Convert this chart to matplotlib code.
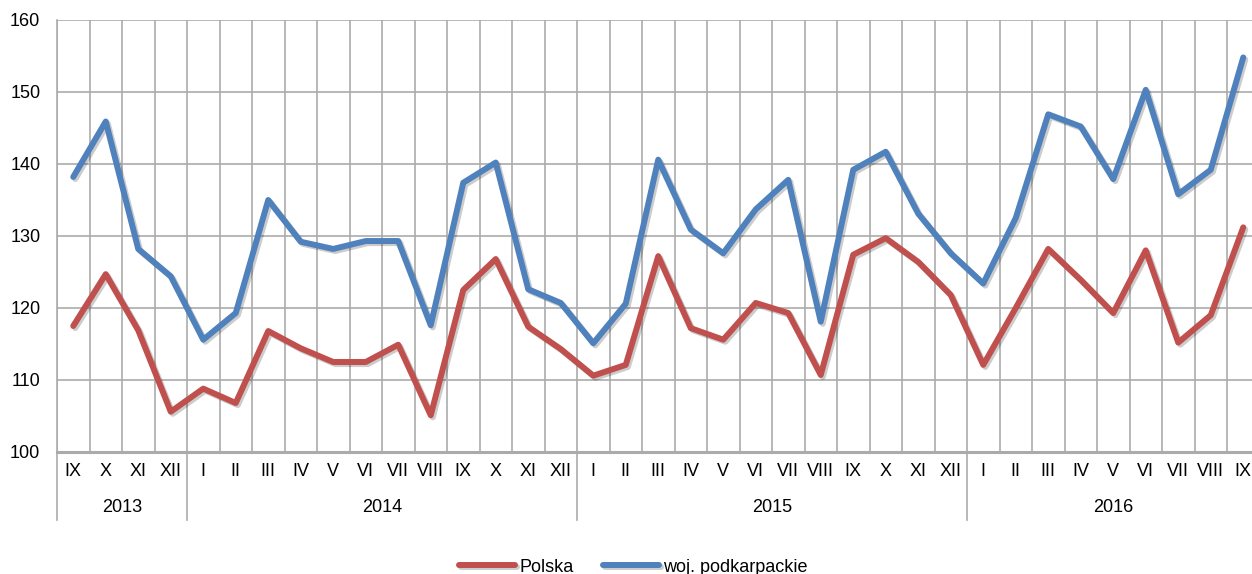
import numpy as np
import matplotlib
matplotlib.use('Agg')
import matplotlib.pyplot as plt
import matplotlib.patheffects as pe
from matplotlib.transforms import blended_transform_factory

plt.rcParams['font.family'] = ['Liberation Sans', 'DejaVu Sans']

months = ['IX', 'X', 'XI', 'XII',
          'I', 'II', 'III', 'IV', 'V', 'VI', 'VII', 'VIII', 'IX', 'X', 'XI', 'XII',
          'I', 'II', 'III', 'IV', 'V', 'VI', 'VII', 'VIII', 'IX', 'X', 'XI', 'XII',
          'I', 'II', 'III', 'IV', 'V', 'VI', 'VII', 'VIII', 'IX']
years = ['2013', '2014', '2015', '2016']
year_len = [4, 12, 12, 9]

polska = [117.5, 124.7, 116.9, 105.6,
          108.8, 106.8, 116.8, 114.4, 112.5, 112.5, 114.9, 105.1, 122.5, 126.8, 117.4, 114.3,
          110.6, 112.1, 127.2, 117.2, 115.6, 120.7, 119.3, 110.7, 127.4, 129.7, 126.4, 121.8,
          112.1, 120.0, 128.2, 123.9, 119.3, 128.0, 115.2, 119.0, 131.2]
podkarpackie = [138.2, 145.9, 128.2, 124.4,
                115.6, 119.3, 135.0, 129.2, 128.2, 129.3, 129.3, 117.6, 137.4, 140.2, 122.6, 120.7,
                115.1, 120.6, 140.6, 130.9, 127.6, 133.7, 137.8, 118.1, 139.2, 141.7, 133.1, 127.6,
                123.4, 132.5, 146.9, 145.2, 137.9, 150.3, 135.8, 139.2, 154.8]

RED = '#C0504D'
BLUE = '#4F81BD'
GRID = '#ABABAB'
FS = 13

fig = plt.figure(figsize=(12.52, 5.74), dpi=100)
ax = fig.add_axes([57 / 1252, 122 / 574, 1202.5 / 1252, 432 / 574])

n = len(months)
x = np.arange(n) + 0.5
shadow = [pe.SimpleLineShadow(offset=(1.5, -1.5), alpha=0.2, shadow_color='black'), pe.Normal()]
ax.plot(x, polska, color=RED, lw=4.3, solid_joinstyle='round', solid_capstyle='round',
        label='Polska', path_effects=shadow, zorder=3)
ax.plot(x, podkarpackie, color=BLUE, lw=4.3, solid_joinstyle='round', solid_capstyle='round',
        label='woj. podkarpackie', path_effects=shadow, zorder=3)

ax.set_xlim(0, n)
ax.set_ylim(100, 160)
ax.set_yticks(np.arange(100, 161, 10))
ax.set_xticks(np.arange(0, n + 1))
ax.set_xticklabels([])
ax.tick_params(axis='x', which='major', length=0)
ax.set_xticks(x, minor=True)
ax.set_xticklabels(months, minor=True)
ax.tick_params(axis='x', which='minor', length=0, pad=8, labelsize=FS)
ax.tick_params(axis='y', length=0, pad=12, labelsize=FS)
ax.grid(True, which='major', color=GRID, lw=1.2)
ax.set_axisbelow(True)

for side in ['top', 'right']:
    ax.spines[side].set_visible(False)
ax.spines['left'].set_color(GRID)
ax.spines['left'].set_linewidth(1.2)
ax.spines['bottom'].set_color(GRID)
ax.spines['bottom'].set_linewidth(2.2)

# year groups below the month labels
trans = blended_transform_factory(ax.transData, ax.transAxes)
start = 0
for yr, ln in zip(years, year_len):
    ax.plot([start, start], [0, -68 / 432], color=GRID, lw=1.2, transform=trans, clip_on=False)
    ax.text(start + ln / 2, -56 / 432, yr, transform=trans, ha='center', va='center', fontsize=FS)
    start += ln

fig.legend(loc='center', bbox_to_anchor=(0.506, 0.012), ncol=2, frameon=False,
           fontsize=FS, handlelength=3.1, columnspacing=1.6, handletextpad=0.25)

fig.savefig('out.png', dpi=100)
